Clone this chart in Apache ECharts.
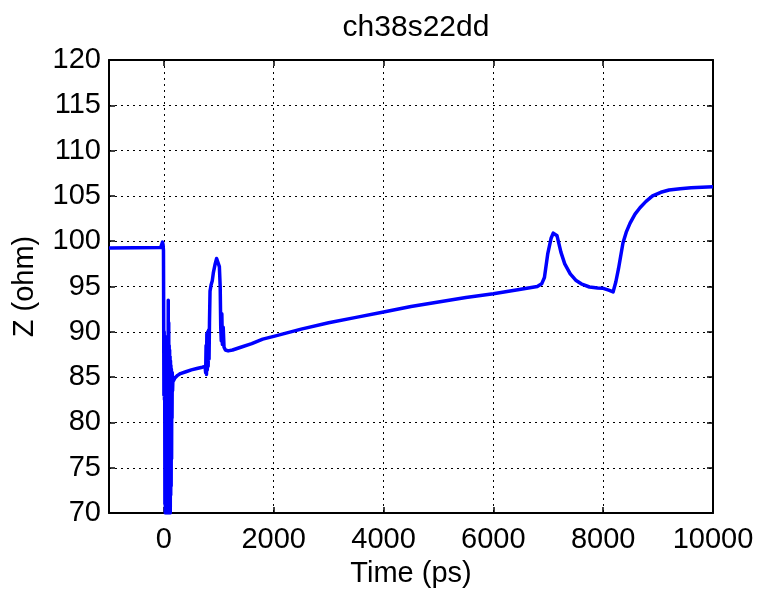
<!DOCTYPE html>
<html>
<head>
<meta charset="utf-8">
<script src="https://cdn.jsdelivr.net/npm/echarts@6/dist/echarts.min.js"></script>
<style>html,body{margin:0;padding:0;background:#fff;}#c{width:757px;height:593px;}</style>
</head>
<body>
<div id="c"></div>
<script>
const chartTitle = 'ch38s22dd';
const xName = 'Time (ps)';
const yName = 'Z (ohm)';
const xTicks = [0, 2000, 4000, 6000, 8000, 10000];
const yTicks = [70, 75, 80, 85, 90, 95, 100, 105, 110, 115, 120];
const timePs = [
  -1000, -60, -40, -25, -15, -8,
  0, 5, 10, 14, 18, 22, 26, 30, 34, 38, 42, 46, 50, 54, 58, 62, 66, 70, 74, 79, 84, 88, 92, 96, 100, 104, 108, 112, 116, 120, 124, 128, 132, 136, 140, 144, 148, 152, 158,
  165, 175, 200, 250, 300, 400, 500, 600, 700, 750, 760, 768, 775, 782, 790, 798, 806, 814, 822, 830, 840, 860, 880, 900, 930, 960, 985,
  1010, 1025, 1035, 1045, 1055, 1065, 1080, 1095, 1120, 1170, 1250, 1400, 1600, 1800, 2000, 2500, 3000, 3500, 4000, 4500,
  5000, 5500, 6000, 6500, 6800, 6880, 6930, 6990, 7050, 7090, 7120, 7160, 7230, 7300, 7400, 7500, 7600, 7750, 7900, 8000,
  8100, 8180, 8230, 8280, 8360, 8420, 8490, 8580, 8670, 8780, 8900, 9050, 9200, 9400, 9600, 9800, 10000
];
const zOhm = [
  99.25, 99.3, 99.4, 99.9, 99.6, 99.0,
  83.0, 90.0, 82.5, 89.0, 71, 89.5, 70, 88.8, 70, 88.5, 70, 89.0, 70, 88.3, 70, 88.6, 70, 89.2, 72, 93.5, 70, 91.0, 70, 88.5, 70, 88.0, 71, 87.3, 70, 86.8, 72, 86.3, 73, 85.9, 76, 85.6, 80.5, 85.5, 83.5,
  85.0, 84.6, 84.9, 85.2, 85.4, 85.6, 85.8, 85.95, 86.1, 86.2, 85.5, 88.5, 85.3, 89.8, 85.8, 90.0, 86.2, 90.2, 87.0, 91.0, 94.5, 95.2, 95.6, 96.5, 97.4, 98.1, 98.0,
  97.2, 95.0, 90.5, 89.0, 92.0, 88.6, 90.5, 88.3, 88.0, 87.9, 88.0, 88.3, 88.7, 89.2, 89.5, 90.3, 91.0, 91.6, 92.2, 92.8,
  93.3, 93.8, 94.2, 94.7, 95.0, 95.3, 96.0, 98.6, 100.3, 100.9, 101.0, 100.6, 98.8, 97.5, 96.4, 95.7, 95.3, 94.95, 94.85, 94.8,
  94.6, 94.4, 95.5, 97.0, 99.8, 101.0, 102.0, 103.0, 103.7, 104.4, 105.0, 105.4, 105.65, 105.8, 105.9, 105.97, 106.0
];

const font = 'Liberation Sans, Arial, Helvetica, sans-serif';
const pts = timePs.map((t, i) => [t, zOhm[i]]);
const gridLine = {show: true, lineStyle: {color: '#000', type: [2, 4], width: 1}};
const axLine = {show: true, onZero: false, lineStyle: {color: '#000', width: 2}};
const tick = {show: true, inside: true, length: 6, lineStyle: {color: '#000', width: 1.5}};

const chart = echarts.init(document.getElementById('c'), null, {renderer: 'canvas'});
chart.setOption({
  animation: false,
  backgroundColor: '#fff',
  title: {
    text: chartTitle, left: 411, top: 8, textAlign: 'center',
    textStyle: {fontFamily: font, fontSize: 30, fontWeight: 'normal', color: '#000'}
  },
  grid: {left: 109, right: 44, top: 60, bottom: 73, containLabel: false},
  xAxis: [{
    type: 'value', min: -1000, max: 10000, interval: 1000, position: 'bottom',
    name: xName, nameLocation: 'middle', nameGap: 45,
    nameTextStyle: {fontFamily: font, fontSize: 29, color: '#000'},
    axisLine: axLine,
    axisTick: Object.assign({customValues: xTicks}, tick),
    axisLabel: {customValues: xTicks, margin: 12, fontFamily: font, fontSize: 29, color: '#000',
      formatter: v => String(v)},
    splitLine: gridLine
  }, {
    type: 'value', min: -1000, max: 10000, interval: 1000, position: 'top',
    axisLine: axLine,
    axisTick: Object.assign({customValues: xTicks}, tick),
    axisLabel: {show: false},
    splitLine: {show: false}
  }],
  yAxis: [{
    type: 'value', min: 70, max: 120, interval: 5, position: 'left',
    name: yName, nameLocation: 'middle', nameGap: 70, nameRotate: 90,
    nameTextStyle: {fontFamily: font, fontSize: 29, color: '#000'},
    axisLine: axLine, axisTick: tick,
    axisLabel: {margin: 8, fontFamily: font, fontSize: 29, color: '#000', formatter: v => String(v)},
    splitLine: gridLine
  }, {
    type: 'value', min: 70, max: 120, interval: 5, position: 'right',
    axisLine: axLine, axisTick: tick,
    axisLabel: {show: false}, splitLine: {show: false}
  }],
  series: [{
    type: 'line', xAxisIndex: 0, yAxisIndex: 0, data: pts,
    showSymbol: false, symbol: 'none', clip: true,
    lineStyle: {color: '#0000ff', width: 3.5, join: 'round'},
    itemStyle: {color: '#0000ff'}
  }]
});
</script>
</body>
</html>
